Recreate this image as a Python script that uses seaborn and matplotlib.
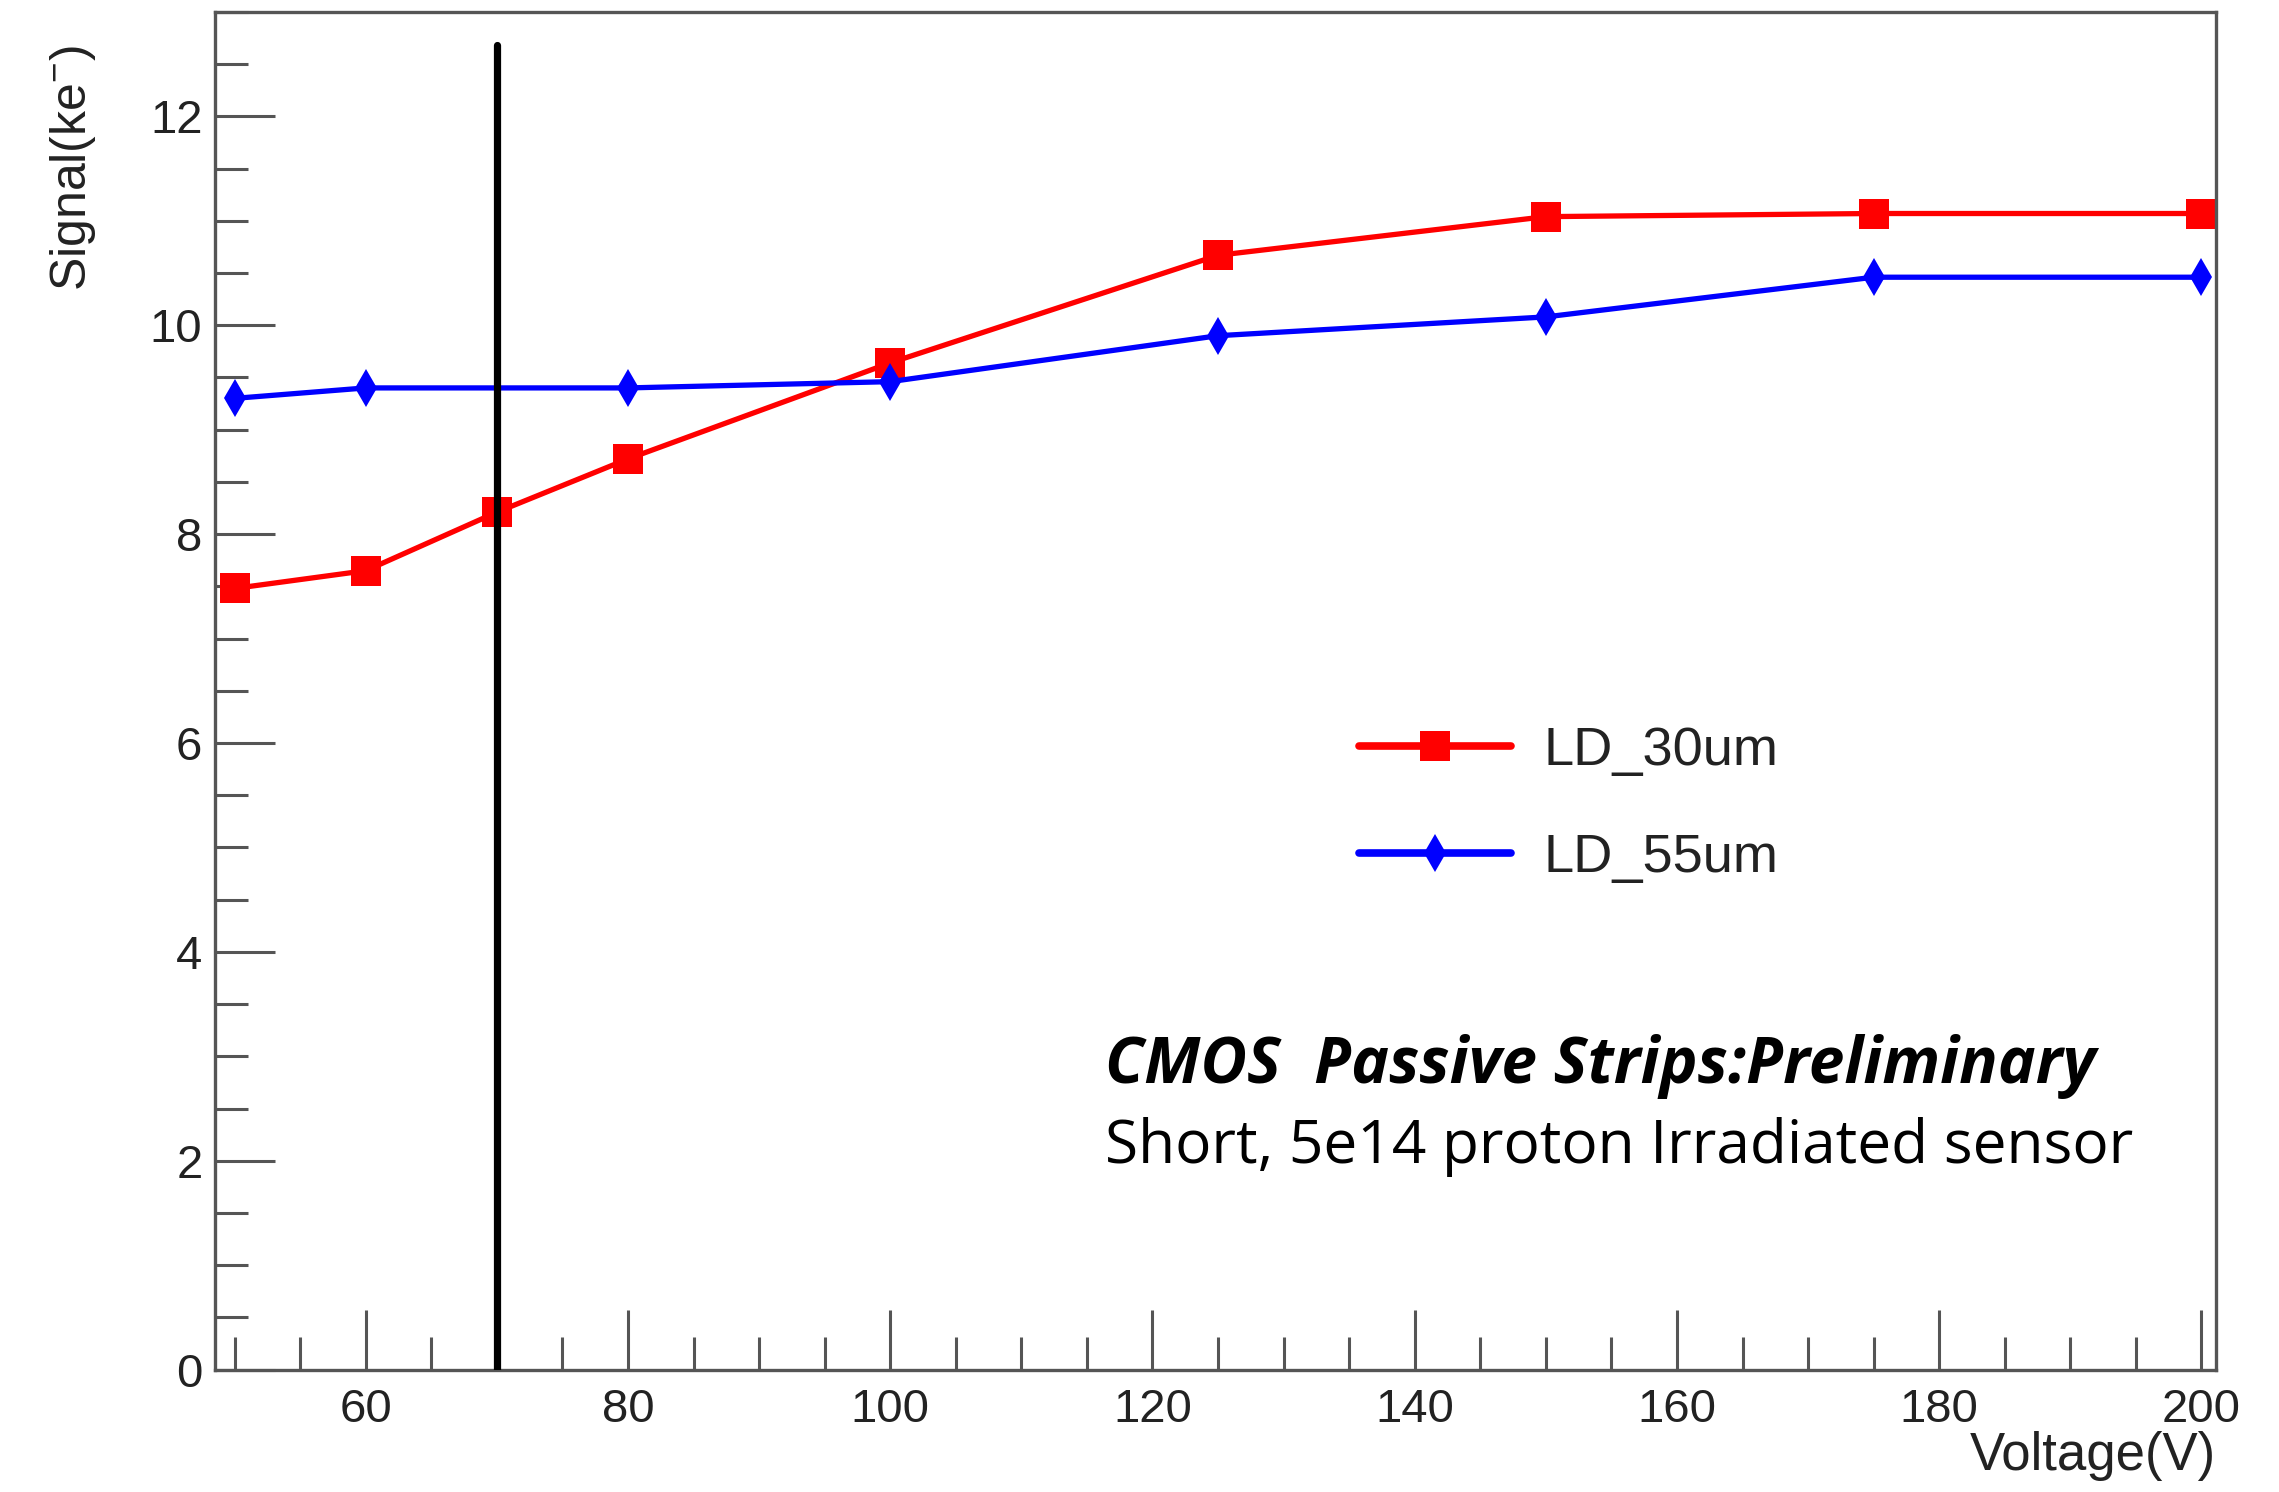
import matplotlib
matplotlib.use('Agg')
import matplotlib.pyplot as plt
import seaborn as sns
import pandas as pd
from matplotlib.ticker import MultipleLocator

# ---- data ----
voltage_30 = [50, 60, 70, 80, 100, 125, 150, 175, 200]
signal_30 = [7.48, 7.65, 8.21, 8.72, 9.64, 10.67, 11.04, 11.07, 11.07]
voltage_55 = [50, 60, 80, 100, 125, 150, 175, 200]
signal_55 = [9.30, 9.40, 9.40, 9.46, 9.90, 10.08, 10.46, 10.46]
series_labels = ["LD_30um", "LD_55um"]
vline_x = 70
vline_top = 12.68
x_label = "Voltage(V)"
y_label = "Signal(ke$^{-}$)"
note_title = "CMOS  Passive Strips:Preliminary"
note_sub = "Short, 5e14 proton Irradiated sensor"

sns.set_style("white")
plt.rcParams['font.family'] = ['Liberation Sans', 'DejaVu Sans']
plt.rcParams['mathtext.default'] = 'regular'

fig = plt.figure(figsize=(22.79, 14.92), dpi=100)
ax = fig.add_axes([0.0943, 0.082, 0.8780, 0.910])

df30 = pd.DataFrame({"V": voltage_30, "S": signal_30})
df55 = pd.DataFrame({"V": voltage_55, "S": signal_55})

diamond = [(0, 1), (0.09, 0.3), (0.45, 0), (0.09, -0.3), (0, -1),
           (-0.09, -0.3), (-0.45, 0), (-0.09, 0.3), (0, 1)]

sns.lineplot(data=df30, x="V", y="S", ax=ax, color="#ff0000", lw=3.8,
             marker="s", markersize=21, markeredgewidth=0, label=series_labels[0])
sns.lineplot(data=df55, x="V", y="S", ax=ax, color="#0000ff", lw=3.8,
             marker="d", markersize=19, markeredgewidth=0, label=series_labels[1])

ax.plot([vline_x, vline_x], [0, vline_top], color="black", lw=5.2, zorder=5)

ax.set_xlim(48.5, 201.1)
ax.set_ylim(0, 13.0)

ax.xaxis.set_major_locator(MultipleLocator(20))
ax.xaxis.set_minor_locator(MultipleLocator(5))
ax.yaxis.set_major_locator(MultipleLocator(2))
ax.yaxis.set_minor_locator(MultipleLocator(0.5))

ax.tick_params(axis='both', which='major', direction='in', length=43, width=2.2,
               color='#555555', labelsize=34, labelcolor='#222222')
ax.tick_params(axis='both', which='minor', direction='in', length=24, width=2.2,
               color='#555555')
ax.tick_params(axis='y', which='both', left=True, right=False, pad=9)
ax.tick_params(axis='x', which='both', bottom=True, top=False, pad=13)

for sp in ax.spines.values():
    sp.set_color('#555555')
    sp.set_linewidth(2.4)

ax.set_xlabel(x_label, fontsize=38, color='#222222', loc='right')
ax.xaxis.set_label_coords(1.0, -0.045)
ax.set_ylabel(y_label, fontsize=36, color='#222222', loc='top')
ax.yaxis.set_label_coords(-0.0585, 0.976)

leg = ax.legend(loc='center left', bbox_to_anchor=(0.572, 0.4165), frameon=False,
                fontsize=39, handlelength=2.8, handletextpad=0.6, labelspacing=1.05,
                borderpad=0, borderaxespad=0, labelcolor='#222222')
for ln in leg.get_lines():
    ln.set_linewidth(5.5)

ax.text(0.445, 0.211, note_title, transform=ax.transAxes, fontsize=46,
        fontweight='bold', fontstyle='italic', family=['Open Sans', 'DejaVu Sans'],
        color='black', va='baseline', ha='left')
ax.text(0.445, 0.152, note_sub, transform=ax.transAxes, fontsize=43.5,
        family=['Open Sans', 'DejaVu Sans'], color='black', va='baseline', ha='left')

fig.savefig("out.png", dpi=100)
